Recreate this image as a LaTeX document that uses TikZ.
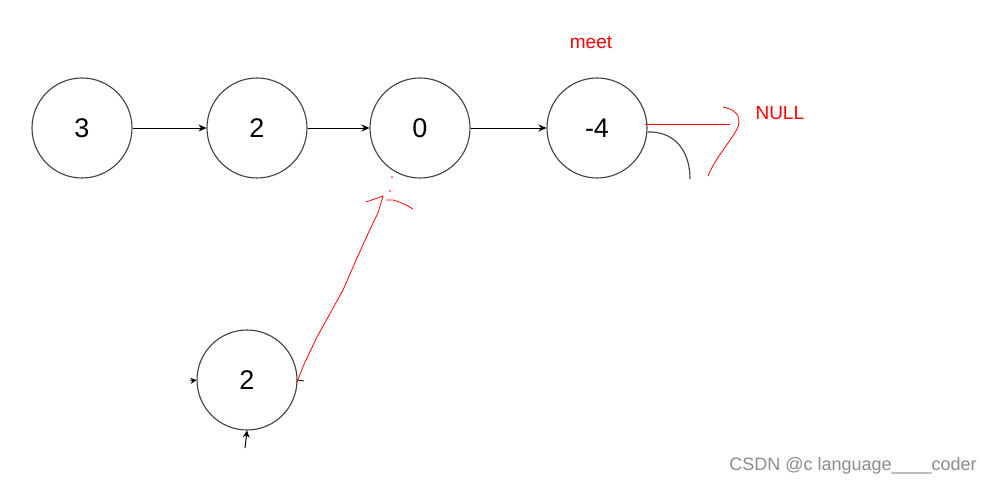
\documentclass[tikz,border=0pt]{standalone}
\usepackage{fontspec}
\setmainfont{Liberation Sans}
\usetikzlibrary{arrows.meta}
\begin{document}
\begin{tikzpicture}[x=1pt,y=-1pt,
  listnode/.style={circle,draw=black!75,line width=1.1pt,minimum size=100pt,inner sep=0pt,font=\fontsize{27}{30}\selectfont},
  link/.style={draw=black,line width=0.9pt,-{Stealth[length=8pt,width=7pt]}},
  redink/.style={draw=red,line width=0.8pt,line cap=round,line join=round},
  redtext/.style={text=red,font=\fontsize{19}{22}\selectfont}]
\useasboundingbox (0,0) rectangle (992,486);
\fill[white] (0,0) rectangle (992,486);
\node[listnode] (n3) at (82,128) {3};
\node[listnode] (n2) at (257,128) {2};
\node[listnode] (n0) at (420,128) {0};
\node[listnode] (n4) at (597,128) {-4};
\node[listnode] (b2) at (247,380) {2};
\draw[link] (n3) -- (n2);
\draw[link] (n2) -- (n0);
\draw[link] (n0) -- (n4);
% curve leaving -4
\coordinate (cend) at (690,179);
\draw[black!75,line width=1.1pt] (n4.east) ++(0,4) .. controls (672,131) and (690,148) .. (cend);
% small marks on bottom node
\coordinate (lt) at (190,381);
\draw[-{Stealth[length=6pt,width=6pt]},line width=0.8pt] (lt) -- (b2.west);
\coordinate (rt) at (304,381);
\draw[line width=0.8pt] (b2.east) -- (rt);
\coordinate (bt) at (245,448);
\draw[-{Stealth[length=7pt,width=7pt]},line width=1pt] (bt) -- (b2.south);
% labels
\node[redtext] (meet) at (591,42) {meet};
\node[redtext,anchor=west] (null) at (752,113) {NULL};
% red strokes
\coordinate (nullend) at (730,124);
\draw[redink] (n4.east) ++(-2,-4) -- (nullend);
\coordinate (br1) at (723,107);
\draw[redink] (br1) .. controls (733,109) and (742,114) .. (738,127)
  .. controls (732,140) and (715,158) .. (708,176);
\coordinate (tip) at (383,196);
\draw[redink] (b2.east) ++(-1,3) -- (305,362) -- (317,337) -- (343,290) -- (357,258) -- (372,225) -- (378,213) -- (tip);
\draw[redink] (366,202) -- (tip);
\draw[redink] (386,200) -- (393,200) .. controls (400,202) and (407,205) .. (413,209);
\fill[red] (392,177) circle (0.8);
\fill[red] (390,191) circle (0.8);
\node[text=black!45,font=\fontsize{18}{21}\selectfont] (wm) at (853,466) {CSDN @c language\_\_\_\_coder};
\end{tikzpicture}
\end{document}
